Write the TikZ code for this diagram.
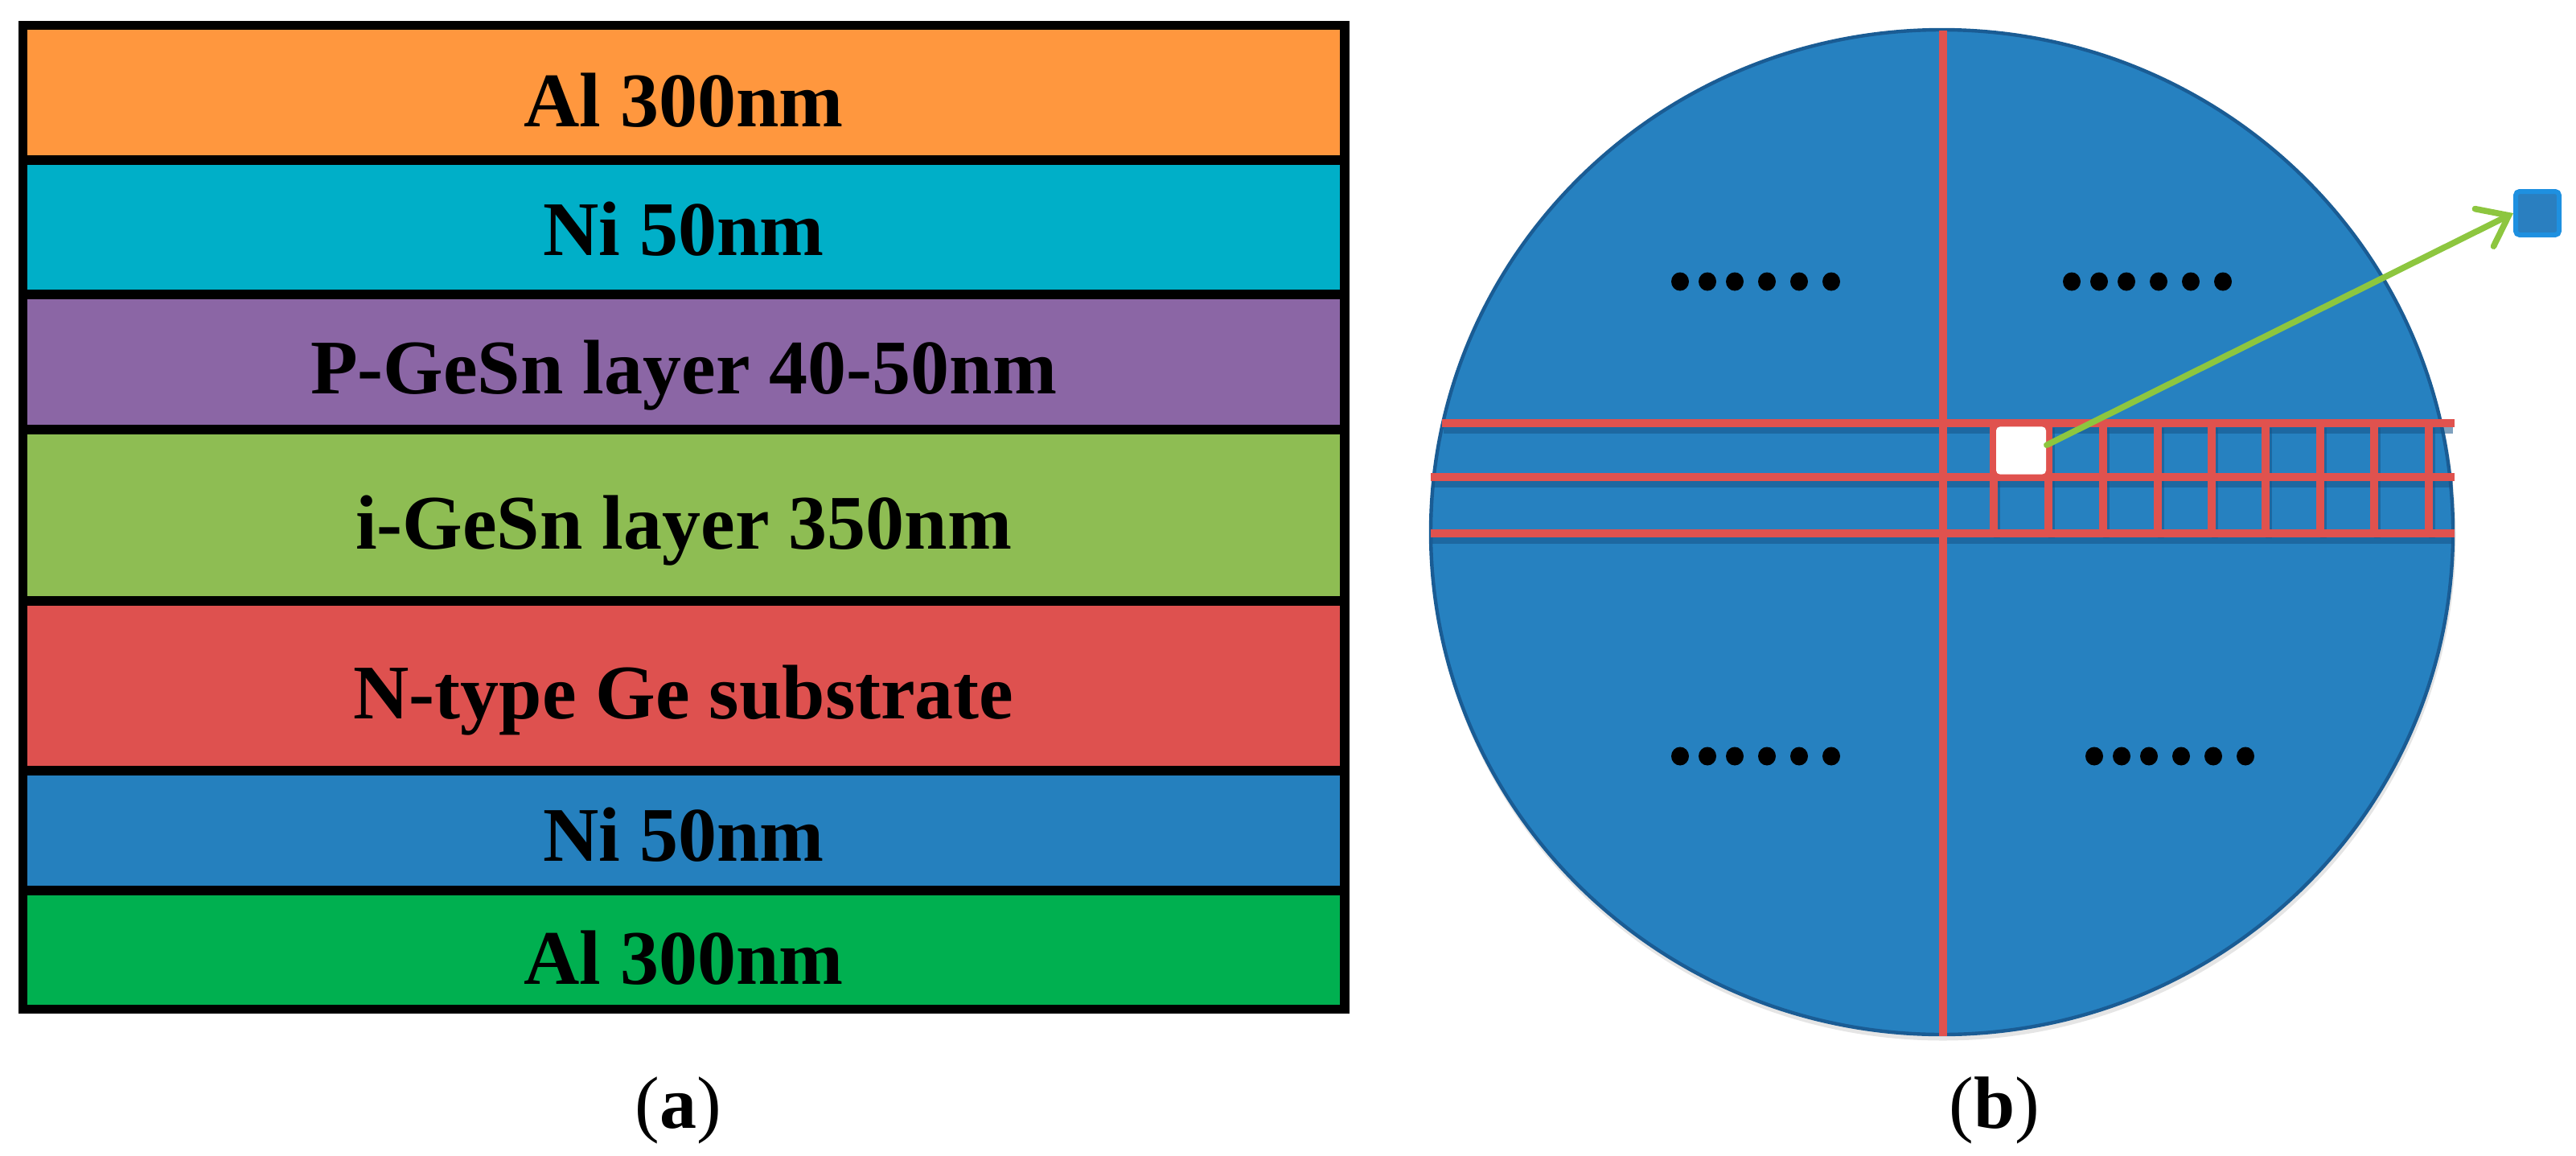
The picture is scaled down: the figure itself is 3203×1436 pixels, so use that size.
\documentclass[tikz,border=0pt]{standalone}
\usepackage{fontspec}
\setmainfont{Liberation Serif}
\usetikzlibrary{arrows.meta}
\definecolor{cOrange}{RGB}{255,151,62}
\definecolor{cCyan}{RGB}{0,175,200}
\definecolor{cPurple}{RGB}{139,102,165}
\definecolor{cLime}{RGB}{142,189,83}
\definecolor{cRed}{RGB}{222,81,79}
\definecolor{cBlue}{RGB}{37,128,190}
\definecolor{cGreen}{RGB}{0,176,80}
\definecolor{waferFill}{RGB}{38,129,192}
\definecolor{waferEdge}{RGB}{26,92,148}
\definecolor{gridRed}{RGB}{224,82,78}
\definecolor{gridShadow}{RGB}{22,84,136}
\definecolor{arrowGreen}{RGB}{141,198,63}
\definecolor{chipFill}{RGB}{42,127,192}
\definecolor{chipEdge}{RGB}{30,144,224}
\tikzset{
  layerbox/.style={draw=black, line width=2.9pt},
  lbl/.style={font=\fontsize{24}{29}\selectfont\bfseries, inner sep=0pt, anchor=base},
  caplbl/.style={font=\fontsize{23}{27}\selectfont, inner sep=0pt, anchor=base},
  gridline/.style={draw=gridRed, line width=2.4pt},
  gridshadow/.style={draw=gridShadow, line width=1.8pt, opacity=0.55},
  dotmark/.style={fill=black},
  garrow/.style={draw=arrowGreen, line width=1.9pt, line cap=round,
    -{Straight Barb[length=8.5pt, width=13pt, line cap=round]}},
}
\begin{document}
\begin{tikzpicture}[x=0.25pt, y=-0.25pt]
\useasboundingbox (0,0) rectangle (3203,1436);
% ---------- (a) layer stack ----------
\draw[layerbox, fill=cOrange] (28.5,31.5) rectangle (1672,199);
\draw[layerbox, fill=cCyan]   (28.5,199) rectangle (1672,366);
\draw[layerbox, fill=cPurple] (28.5,366) rectangle (1672,534);
\draw[layerbox, fill=cLime]   (28.5,534) rectangle (1672,747);
\draw[layerbox, fill=cRed]    (28.5,747) rectangle (1672,958);
\draw[layerbox, fill=cBlue]   (28.5,958) rectangle (1672,1107);
\draw[layerbox, fill=cGreen]  (28.5,1107) rectangle (1672,1254.5);
\node[lbl] (l1) at (850,157)  {Al 300nm};
\node[lbl] (l2) at (850,317)  {Ni 50nm};
\node[lbl] (l3) at (850,489)  {P-GeSn layer 40-50nm};
\node[lbl] (l4) at (850,682)  {i-GeSn layer 350nm};
\node[lbl] (l5) at (850,893)  {N-type Ge substrate};
\node[lbl] (l6) at (850,1070) {Ni 50nm};
\node[lbl] (l7) at (850,1223) {Al 300nm};
\node[caplbl] (capa) at (843,1402) {(\textbf{a})};
% ---------- (b) wafer ----------
\fill[black!25, opacity=0.4] (2416,667) ellipse [x radius=637.5, y radius=626.5];
\draw[fill=waferFill, draw=waferEdge, line width=1.1pt] (2414.5,661.5) ellipse [x radius=635.5, y radius=624.5];
% shadows of grid lines
\foreach \yy/\xs in {526/1793, 593/1779, 663/1779}
  \draw[gridshadow] (\xs+2,\yy+9) -- (3050,\yy+9);
\foreach \xx in {2479,2547,2615,2683,2750,2817,2885,2952,3020}
  \draw[gridshadow] (\xx+4,532) -- (\xx+4,669);
% grid lines
\draw[gridline] (2416,38) -- (2416,1288);
\draw[gridline] (1793,526) -- (3052,526);
\draw[gridline] (1779,593) -- (3052,593);
\draw[gridline] (1779,663) -- (3052,663);
\foreach \xx in {2479,2547,2615,2683,2750,2817,2885,2952,3020}
  \draw[gridline] (\xx,526) -- (\xx,663);
% dots
\foreach \gx/\gy in {2089/350, 2576/350, 2089/940, 2604/940}
  \foreach \d in {0,34,68,108,148,188}
    \fill[dotmark] (\gx+\d,\gy) ellipse [x radius=11, y radius=11.5];
% selected cell and chip
\node[fill=white, rounded corners=1.2pt, minimum width=15.5pt, minimum height=14.8pt, inner sep=0pt] (cell) at (2513,560) {};
\node[fill=chipFill, draw=chipEdge, line width=1.5pt, rounded corners=1.2pt, minimum size=13.5pt, inner sep=0pt] (chip) at (3155,265) {};
\draw[garrow] ([yshift=1.7pt]cell.east) -- (chip.west);
\node[caplbl] (capb) at (2480,1402) {(\textbf{b})};
\end{tikzpicture}
\end{document}
